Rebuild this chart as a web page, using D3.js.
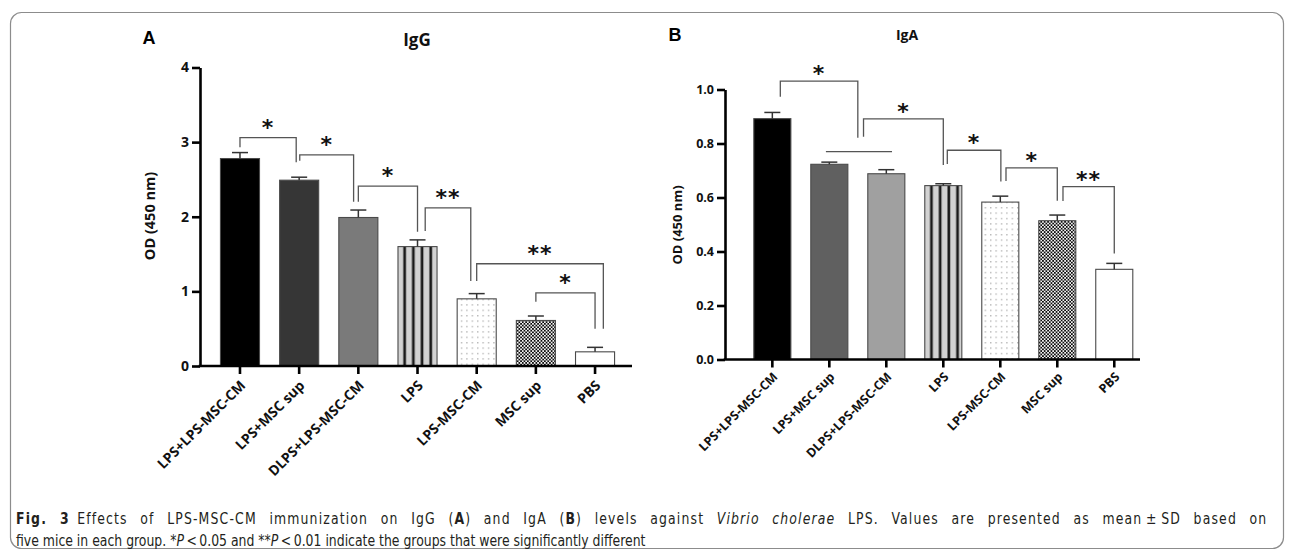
<!DOCTYPE html>
<html>
<head>
<meta charset="utf-8">
<script src="https://cdn.jsdelivr.net/npm/d3@7"></script>
<style>
  body { margin: 0; background: #fff; }
  svg { display: block; }
  .tick text { font-family: "Open Sans", sans-serif; font-weight: 700; fill: #111; }
  .lbl { font-family: "Open Sans", sans-serif; font-weight: 700; fill: #111; }
  .star { font-family: "DejaVu Sans", sans-serif; font-weight: 700; fill: #111; }
  .cap { font-family: "DejaVu Sans", sans-serif; font-stretch: condensed; fill: #231f20; font-size: 16.5px; }
</style>
</head>
<body>
<script>
// groups, shared by both panels
var groups = ["LPS+LPS-MSC-CM", "LPS+MSC sup", "DLPS+LPS-MSC-CM", "LPS", "LPS-MSC-CM", "MSC sup", "PBS"];

// panel A: IgG
var iggMean = [2.78, 2.49, 1.99, 1.60, 0.90, 0.61, 0.19];
var iggSD   = [0.08, 0.04, 0.10, 0.09, 0.07, 0.06, 0.06];
var iggTicks = [0, 1, 2, 3, 4];
// significance brackets: from/to group index, top and leg ends in OD units
var iggSig = [
  {from: 0, to: 1, fs: 0,    ts: -0.05, top: 3.06, fEnd: 2.93, tEnd: 2.73, label: "*"},
  {from: 1, to: 2, fs: 0.01, ts: -0.08, top: 2.83, fEnd: 2.75, tEnd: 2.20, label: "*"},
  {from: 2, to: 3, fs: 0,    ts: 0,     top: 2.41, fEnd: 2.20, tEnd: 1.80, label: "*"},
  {from: 3, to: 4, fs: 0.13, ts: -0.10, top: 2.12, fEnd: 1.81, tEnd: 1.14, label: "**"},
  {from: 4, to: 6, fs: 0,    ts: 0.14,  top: 1.37, fEnd: 1.14, tEnd: 0.50, label: "**"},
  {from: 5, to: 6, fs: 0,    ts: 0,     top: 0.98, fEnd: 0.86, tEnd: 0.50, label: "*"}
];

// panel B: IgA
var igaMean = [0.892, 0.723, 0.688, 0.644, 0.583, 0.514, 0.334];
var igaSD   = [0.023, 0.008, 0.015, 0.007, 0.022, 0.021, 0.022];
var igaTicks = [0, 0.2, 0.4, 0.6, 0.8, 1.0];
var igaSig = [
  {from: 0, to: 1.5, fs: 0.14, ts: 0,    top: 1.031, fEnd: 0.973, tEnd: 0.821, label: "*"},
  {from: 1.5, to: 3, fs: 0.1, ts: 0,     top: 0.891, fEnd: 0.825, tEnd: 0.720, label: "*"},
  {from: 3, to: 4, fs: 0.07, ts: 0.01,   top: 0.775, fEnd: 0.724, tEnd: 0.659, label: "*"},
  {from: 4, to: 5, fs: 0.1, ts: 0,       top: 0.710, fEnd: 0.661, tEnd: 0.588, label: "*"},
  {from: 5, to: 6, fs: 0.1, ts: 0,       top: 0.640, fEnd: 0.587, tEnd: 0.393, label: "**"}
];
// horizontal line joining groups 2 and 3
var igaJoin = [{from: 1, to: 2, fs: -0.06, ts: 0.1, y: 0.770}];

var W = 1295, H = 551;

var svg = d3.select("body").append("svg")
    .attr("width", W)
    .attr("height", H);

var defs = svg.append("defs");

// fine dots
var dots = defs.append("pattern")
    .attr("id", "dots")
    .attr("patternUnits", "userSpaceOnUse")
    .attr("width", 5.4).attr("height", 5.4);
dots.append("rect").attr("width", 5.4).attr("height", 5.4).attr("fill", "#fff");
dots.append("rect").attr("x", 2).attr("y", 2).attr("width", 1.1).attr("height", 1.1).attr("fill", "#8a8a8a");

// checker
var checks = defs.append("pattern")
    .attr("id", "checks")
    .attr("patternUnits", "userSpaceOnUse")
    .attr("width", 3.4).attr("height", 3.4);
checks.append("rect").attr("width", 3.4).attr("height", 3.4).attr("fill", "#f4f4f4");
checks.append("rect").attr("width", 1.7).attr("height", 1.7).attr("fill", "#0a0a0a");
checks.append("rect").attr("x", 1.7).attr("y", 1.7).attr("width", 1.7).attr("height", 1.7).attr("fill", "#0a0a0a");

// frame
svg.append("rect")
    .attr("x", 10.5).attr("y", 12.5)
    .attr("width", 1273).attr("height", 536)
    .attr("rx", 11)
    .attr("fill", "none")
    .attr("stroke", "#8c8c8c")
    .attr("stroke-width", 1.2);

var panels = [
  {
    key: "A", title: "IgG", mean: iggMean, sd: iggSD, ticks: iggTicks, sig: iggSig, join: [],
    fmt: d3.format("d"), ymax: 4,
    x0: 200, x1: 632, y0: 366, y1: 67.5, align: 0.54, inner: 0.34, outer: 0.32,
    fills: ["#000", "#363636", "#7a7a7a", "stripes", "url(#dots)", "url(#checks)", "#fff"],
    tickFont: 14, labFont: 14, titleFont: 17, starGap: 15,
    letter: [149, 44], titlePos: [417, 46], ytitle: [155, 216], ytitleFont: 14.5,
    labOff: [3, 17]
  },
  {
    key: "B", title: "IgA", mean: igaMean, sd: igaSD, ticks: igaTicks, sig: igaSig, join: igaJoin,
    fmt: d3.format(".1f"), ymax: 1,
    x0: 725, x1: 1140, y0: 359.5, y1: 89.5, align: 0.8, inner: 0.35, outer: 0.316,
    fills: ["#000", "#606060", "#a0a0a0", "stripes", "url(#dots)", "url(#checks)", "#fff"],
    tickFont: 12.5, labFont: 12.5, titleFont: 14, starGap: 12,
    letter: [675, 41], titlePos: [907, 40], ytitle: [682, 225], ytitleFont: 13,
    labOff: [3, 15]
  }
];

panels.forEach(function (p) {
  var g = svg.append("g");

  var x = d3.scaleBand()
      .domain(d3.range(groups.length))
      .range([p.x0, p.x1])
      .paddingInner(p.inner)
      .paddingOuter(p.outer)
      .align(p.align);

  var y = d3.scaleLinear()
      .domain([0, p.ymax])
      .range([p.y0, p.y1]);

  var bw = x.bandwidth(),
      step = x.step();
  function cx(i) { // fractional group index -> pixel centre
    return x(0) + bw / 2 + i * step;
  }

  // stripes, lined up with the LPS bar
  var sx = x(3);
  var st = defs.append("pattern")
      .attr("id", "stripes-" + p.key)
      .attr("patternUnits", "userSpaceOnUse")
      .attr("x", sx).attr("y", 0)
      .attr("width", 8.7).attr("height", 10);
  st.append("rect").attr("width", 8.7).attr("height", 10).attr("fill", "#d2d2d2");
  st.append("rect").attr("x", 5.3).attr("width", 2.7).attr("height", 10).attr("fill", "#1a1a1a");

  // bars
  g.selectAll("rect.bar")
    .data(p.mean)
    .enter()
    .append("rect")
      .classed("bar", true)
      .attr("x", function (d, i) { return x(i); })
      .attr("y", function (d) { return y(d); })
      .attr("width", bw)
      .attr("height", function (d) { return y(0) - y(d); })
      .attr("fill", function (d, i) {
        var f = p.fills[i];
        return f === "stripes" ? "url(#stripes-" + p.key + ")" : f;
      })
      .attr("stroke", "#4a4a4a")
      .attr("stroke-width", 1.1);

  // error bars
  var err = g.selectAll("g.err")
    .data(p.mean)
    .enter()
    .append("g")
      .attr("stroke", "#333")
      .attr("stroke-width", 1.5);
  err.append("line")
      .attr("x1", function (d, i) { return cx(i); })
      .attr("x2", function (d, i) { return cx(i); })
      .attr("y1", function (d) { return y(d); })
      .attr("y2", function (d, i) { return y(d + p.sd[i]); });
  err.append("line")
      .attr("x1", function (d, i) { return cx(i) - 8; })
      .attr("x2", function (d, i) { return cx(i) + 8; })
      .attr("y1", function (d, i) { return y(d + p.sd[i]); })
      .attr("y2", function (d, i) { return y(d + p.sd[i]); });

  // y axis
  var ya = g.append("g")
      .attr("transform", "translate(" + p.x0 + ",0)")
      .call(d3.axisLeft(y).tickValues(p.ticks).tickFormat(p.fmt).tickSize(8).tickSizeOuter(0).tickPadding(3));
  ya.select(".domain").attr("stroke", "#000").attr("stroke-width", 2.6);
  ya.selectAll(".tick line").attr("stroke", "#000").attr("stroke-width", 2.6);
  ya.selectAll(".tick text").style("font-size", p.tickFont + "px");

  // x axis
  g.append("line")
      .attr("x1", p.x0 - 1.3).attr("x2", p.x1)
      .attr("y1", p.y0).attr("y2", p.y0)
      .attr("stroke", "#000").attr("stroke-width", 2.6);
  g.selectAll("line.xt")
    .data(groups)
    .enter()
    .append("line")
      .attr("x1", function (d, i) { return cx(i); })
      .attr("x2", function (d, i) { return cx(i); })
      .attr("y1", p.y0)
      .attr("y2", p.y0 + 8)
      .attr("stroke", "#000").attr("stroke-width", 2.6);
  g.selectAll("text.xl")
    .data(groups)
    .enter()
    .append("text")
      .attr("class", "lbl")
      .attr("transform", function (d, i) {
        return "translate(" + (cx(i) + p.labOff[0]) + "," + (p.y0 + p.labOff[1]) + ") rotate(-45)";
      })
      .attr("text-anchor", "end")
      .attr("dy", "0.35em")
      .style("font-size", p.labFont + "px")
      .text(function (d) { return d; });

  // axis title
  g.append("text")
      .attr("class", "lbl")
      .attr("transform", "translate(" + p.ytitle[0] + "," + p.ytitle[1] + ") rotate(-90)")
      .attr("text-anchor", "middle")
      .style("font-size", p.ytitleFont + "px")
      .text("OD (450 nm)");

  // panel letter and title
  g.append("text")
      .attr("x", p.letter[0]).attr("y", p.letter[1])
      .attr("text-anchor", "middle")
      .style("font-family", "Liberation Sans, Arial, sans-serif")
      .style("font-weight", 700)
      .style("font-size", "18px")
      .text(p.key);
  g.append("text")
      .attr("class", "lbl")
      .attr("x", p.titlePos[0]).attr("y", p.titlePos[1])
      .attr("text-anchor", "middle")
      .style("font-size", p.titleFont + "px")
      .text(p.title);

  // significance brackets
  var br = g.selectAll("g.sig")
    .data(p.sig)
    .enter()
    .append("g");
  br.append("path")
      .attr("d", function (d) {
        var a = cx(d.from + d.fs), b = cx(d.to + d.ts);
        return "M" + a + "," + y(d.fEnd) + "V" + y(d.top) + "H" + b + "V" + y(d.tEnd);
      })
      .attr("fill", "none")
      .attr("stroke", "#555")
      .attr("stroke-width", 1.3);
  br.append("text")
      .attr("class", "star")
      .attr("x", function (d) { return (cx(d.from + d.fs) + cx(d.to + d.ts)) / 2; })
      .attr("y", function (d) { return y(d.top) - p.starGap + 12; })
      .attr("text-anchor", "middle")
      .style("font-size", "22px")
      .style("letter-spacing", "1px")
      .text(function (d) { return d.label; });

  g.selectAll("line.join")
    .data(p.join)
    .enter()
    .append("line")
      .attr("x1", function (d) { return cx(d.from + d.fs); })
      .attr("x2", function (d) { return cx(d.to + d.ts); })
      .attr("y1", function (d) { return y(d.y); })
      .attr("y2", function (d) { return y(d.y); })
      .attr("stroke", "#555")
      .attr("stroke-width", 1.3);
});

// caption
var c1 = svg.append("text").attr("class", "cap");
c1.append("tspan").style("font-weight", 700).text("Fig. 3");
c1.append("tspan").text("\u2002Effects of LPS-MSC-CM immunization on IgG (");
c1.append("tspan").style("font-weight", 700).text("A");
c1.append("tspan").text(") and IgA (");
c1.append("tspan").style("font-weight", 700).text("B");
c1.append("tspan").text(") levels against ");
c1.append("tspan").style("font-style", "italic").text("Vibrio cholerae");
c1.append("tspan").text(" LPS. Values are presented as mean\u2009\u00b1\u2009SD based on");

var c2 = svg.append("text").attr("class", "cap");
c2.append("tspan").text("five mice in each group. *");
c2.append("tspan").style("font-style", "italic").text("P");
c2.append("tspan").text("\u2009<\u20090.05 and **");
c2.append("tspan").style("font-style", "italic").text("P");
c2.append("tspan").text("\u2009<\u20090.01 indicate the groups that were significantly different");

// narrow the caption face to the reference width; justify the first line
var sxCap = 630 / c2.node().getComputedTextLength();
c2.attr("transform", "translate(16,546) scale(" + sxCap + ",1)");
var w1 = c1.node().getComputedTextLength();
var txt1 = c1.text();
var gaps = txt1.split(" ").length - 1;
var extra = 1252 / sxCap - w1;
c1.style("word-spacing", (extra * 0.5 / gaps) + "px")
  .style("letter-spacing", (extra * 0.5 / txt1.length) + "px")
  .attr("transform", "translate(16,524) scale(" + sxCap + ",1)");
</script>
</body>
</html>
